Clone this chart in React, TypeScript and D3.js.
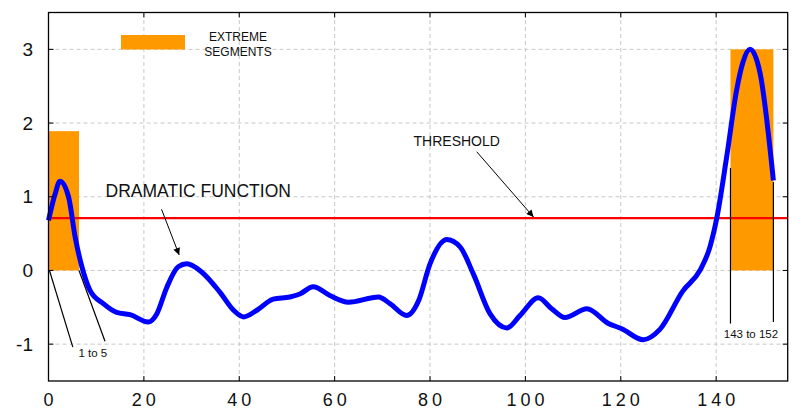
import { useEffect, useRef } from "react";
import * as d3 from "d3";

// curve samples
const curveX = [0, 1.4, 2.4, 4.2, 5.6, 7.0, 8.7, 11.5, 14.3, 17.1, 20.9, 22.7, 24.8, 27.2, 29.0, 32.1, 36.0, 38.8, 40.9, 43.7, 47.1, 50.6, 52.7, 55.5, 59.0, 62.9, 69.2, 71.6, 75.1, 77.6, 80.0, 83.5, 86.3, 89.1, 92.6, 96.1, 98.9, 102.7, 105.5, 108.3, 112.9, 117.4, 120.2, 124.7, 128.2, 133.0, 136.6, 138.7, 140.1, 142.2, 144.3, 145.6, 147.1, 149.2, 152.0];
const curveY = [0.68, 1.04, 1.21, 1.0, 0.45, 0.05, -0.27, -0.45, -0.57, -0.6, -0.7, -0.59, -0.23, 0.05, 0.09, -0.02, -0.3, -0.54, -0.63, -0.54, -0.39, -0.36, -0.32, -0.22, -0.34, -0.43, -0.36, -0.45, -0.61, -0.41, 0.09, 0.42, 0.32, -0.05, -0.59, -0.78, -0.61, -0.37, -0.52, -0.64, -0.52, -0.72, -0.79, -0.94, -0.8, -0.28, 0.0, 0.32, 0.7, 1.54, 2.45, 2.82, 3.0, 2.68, 1.22];

const threshold = 0.71;

const segStart = [0, 143];
const segEnd = [6.4, 152];
const segHeight = [1.89, 3.0];
const segLabels = ["1 to 5", "143 to 152"];

const xTicks = [0, 20, 40, 60, 80, 100, 120, 140];
const yTicks = [-1, 0, 1, 2, 3];

const FONT = "'Liberation Sans', Arial, sans-serif";

export default function App() {
  const svgRef = useRef<SVGSVGElement>(null);

  useEffect(() => {
    const svg = d3.select(svgRef.current);
    svg.selectAll("*").remove();

    const x = d3.scaleLinear().domain([0, 155]).range([48.5, 787.7]);
    const y = d3.scaleLinear().domain([-1.5, 3.5]).range([381, 12.5]);
    const [x0, x1] = x.range();
    const [y0, y1] = y.range();

    const defs = svg.append("defs");
    defs.append("marker").attr("id", "arr").attr("viewBox", "0 0 10 10")
      .attr("refX", 10).attr("refY", 5).attr("markerWidth", 9).attr("markerHeight", 7)
      .attr("markerUnits", "userSpaceOnUse").attr("orient", "auto")
      .append("path").attr("d", "M0,0 L10,5 L0,10 Z").attr("fill", "#000");

    // grid
    const grid = svg.append("g").attr("stroke", "#c8c8c8").attr("stroke-width", 1).attr("stroke-dasharray", "4,3");
    xTicks.filter((t) => t > 0).forEach((t) => {
      grid.append("line").attr("x1", x(t)).attr("x2", x(t)).attr("y1", y0).attr("y2", y1);
    });
    yTicks.forEach((t) => {
      grid.append("line").attr("x1", x0).attr("x2", x1).attr("y1", y(t)).attr("y2", y(t));
    });

    // extreme segments
    svg.selectAll(".seg").data(segStart).enter().append("rect")
      .attr("x", (d) => x(d)).attr("y", (d, i) => y(segHeight[i]))
      .attr("width", (d, i) => x(segEnd[i]) - x(d))
      .attr("height", (d, i) => y(0) - y(segHeight[i]))
      .attr("fill", "#ff9900");

    // legend
    svg.append("rect").attr("x", 121).attr("y", 35).attr("width", 64).attr("height", 14.5).attr("fill", "#ff9900");
    const lg = svg.append("text").attr("font-family", FONT).attr("font-size", 12).attr("text-anchor", "middle").attr("fill", "#111");
    lg.append("tspan").attr("x", 238).attr("y", 41).text("EXTREME");
    lg.append("tspan").attr("x", 238).attr("y", 56).text("SEGMENTS");

    // threshold
    svg.append("line").attr("x1", x0).attr("x2", x1).attr("y1", y(threshold)).attr("y2", y(threshold))
      .attr("stroke", "#ff0000").attr("stroke-width", 2.2);

    // curve
    const pts = curveX.map((d, i) => [d, curveY[i]] as [number, number]);
    const line = d3.line<[number, number]>().x((d) => x(d[0])).y((d) => y(d[1])).curve(d3.curveMonotoneX);
    svg.append("path").attr("d", line(pts)).attr("fill", "none").attr("stroke", "#0000ff")
      .attr("stroke-width", 5).attr("stroke-linejoin", "round");

    // segment annotation lines
    const ann = svg.append("g").attr("stroke", "#000").attr("stroke-width", 1.2);
    ann.append("line").attr("x1", x(0.2)).attr("y1", y(0)).attr("x2", x(5.1)).attr("y2", y(-1.04));
    ann.append("line").attr("x1", x(6.4)).attr("y1", y(0)).attr("x2", x(11.85)).attr("y2", y(-0.96));
    ann.append("line").attr("x1", x(143)).attr("y1", y(1.39)).attr("x2", x(143)).attr("y2", y(-0.72));
    ann.append("line").attr("x1", x(152)).attr("y1", y(1.2)).attr("x2", x(152)).attr("y2", y(-0.7));
    const labelPos: [number, number][] = [[9.3, -1.17], [147.3, -0.91]];
    segLabels.forEach((s, i) => {
      svg.append("text").attr("x", x(labelPos[i][0])).attr("y", y(labelPos[i][1]))
        .attr("font-family", FONT).attr("font-size", 11.5).attr("text-anchor", "middle").attr("fill", "#111").text(s);
    });

    // arrows + labels
    svg.append("line").attr("x1", x(23.7)).attr("y1", y(0.83)).attr("x2", x(27.4)).attr("y2", y(0.21))
      .attr("stroke", "#000").attr("stroke-width", 1).attr("marker-end", "url(#arr)");
    svg.append("text").attr("x", x(31.4)).attr("y", y(0.99)).attr("font-family", FONT).attr("font-size", 17.5)
      .attr("text-anchor", "middle").attr("fill", "#111").text("DRAMATIC FUNCTION");
    svg.append("line").attr("x1", x(89.8)).attr("y1", y(1.61)).attr("x2", x(101.7)).attr("y2", y(0.725))
      .attr("stroke", "#000").attr("stroke-width", 1).attr("marker-end", "url(#arr)");
    svg.append("text").attr("x", x(85.6)).attr("y", y(1.69)).attr("font-family", FONT).attr("font-size", 14)
      .attr("text-anchor", "middle").attr("fill", "#111").text("THRESHOLD");

    // frame + inward ticks
    svg.append("rect").attr("x", x0).attr("y", y1).attr("width", x1 - x0).attr("height", y0 - y1)
      .attr("fill", "none").attr("stroke", "#000").attr("stroke-width", 1.3);
    const tk = svg.append("g").attr("stroke", "#000").attr("stroke-width", 1);
    xTicks.forEach((t) => {
      tk.append("line").attr("x1", x(t)).attr("x2", x(t)).attr("y1", y0).attr("y2", y0 - 5);
      tk.append("line").attr("x1", x(t)).attr("x2", x(t)).attr("y1", y1).attr("y2", y1 + 5);
    });
    yTicks.forEach((t) => {
      tk.append("line").attr("x1", x0).attr("x2", x0 + 5).attr("y1", y(t)).attr("y2", y(t));
      tk.append("line").attr("x1", x1).attr("x2", x1 - 5).attr("y1", y(t)).attr("y2", y(t));
    });

    // tick labels
    svg.selectAll(".xl").data(xTicks).enter().append("text")
      .attr("x", (d) => x(d) + 2).attr("y", 406).attr("text-anchor", "middle")
      .attr("font-family", FONT).attr("font-size", 18).attr("letter-spacing", 4).attr("fill", "#111")
      .text((d) => d);
    svg.selectAll(".yl").data(yTicks).enter().append("text")
      .attr("x", 33).attr("y", (d) => y(d) + 6.5).attr("text-anchor", "end")
      .attr("font-family", FONT).attr("font-size", 19).attr("fill", "#111")
      .text((d) => d);
  }, []);

  return (
    <svg ref={svgRef} width={812} height={410}
      style={{ position: "absolute", left: 0, top: 0, background: "#fff" }} />
  );
}
